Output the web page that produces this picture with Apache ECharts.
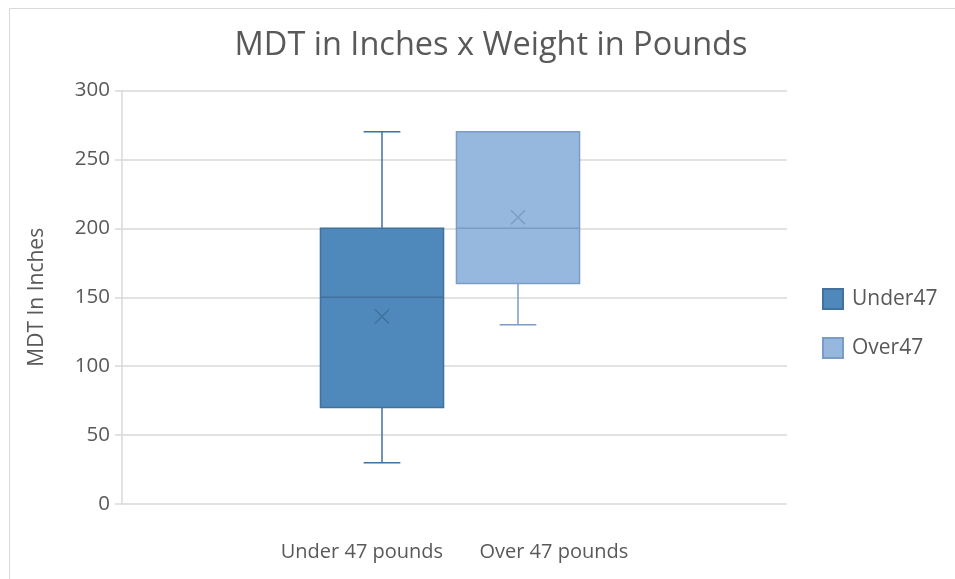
<!DOCTYPE html>
<html>
<head>
<meta charset="utf-8">
<title>MDT in Inches x Weight in Pounds</title>
<script src="https://cdn.jsdelivr.net/npm/echarts@6/dist/echarts.min.js"></script>
<style>
  html, body { margin: 0; padding: 0; background: #fff; }
  #chart { width: 955px; height: 579px; }
</style>
</head>
<body>
<div id="chart"></div>
<script>
// category label under the plot (one Excel category holding both groups)
const categories = ['Under 47 pounds', 'Over 47 pounds']
const seriesNames = ['Under47', 'Over47']

// [min, q1, median, q3, max]
const under47Box = [30, 70, 150, 200, 270]
const over47Box = [130, 160, 200, 270, 270]
const under47Mean = 136
const over47Mean = 208

const yTicks = [0, 50, 100, 150, 200, 250, 300]

const fills = ['#4f88bb', '#97b8de']
const strokes = ['#41719c', '#7b9cc6']

function boxRenderer(fill, stroke) {
  return function (params, api) {
    const x = api.value(0)
    const band = api.size([1, 0])[0]
    const boxW = band * 0.905
    const capW = band * 0.27
    const pMin = api.coord([x, api.value(1)])
    const pQ1 = api.coord([x, api.value(2)])
    const pMed = api.coord([x, api.value(3)])
    const pQ3 = api.coord([x, api.value(4)])
    const pMax = api.coord([x, api.value(5)])
    const pMean = api.coord([x, api.value(6)])
    const cx = pMed[0]
    const lineStyle = { stroke: stroke, lineWidth: 1.5, fill: null }
    const children = []
    // whiskers
    if (pMax[1] < pQ3[1]) {
      children.push({ type: 'line', shape: { x1: cx, y1: pQ3[1], x2: cx, y2: pMax[1] }, style: lineStyle })
      children.push({ type: 'line', shape: { x1: cx - capW / 2, y1: pMax[1], x2: cx + capW / 2, y2: pMax[1] }, style: lineStyle })
    }
    if (pMin[1] > pQ1[1]) {
      children.push({ type: 'line', shape: { x1: cx, y1: pQ1[1], x2: cx, y2: pMin[1] }, style: lineStyle })
      children.push({ type: 'line', shape: { x1: cx - capW / 2, y1: pMin[1], x2: cx + capW / 2, y2: pMin[1] }, style: lineStyle })
    }
    // box
    children.push({
      type: 'rect',
      shape: { x: cx - boxW / 2, y: pQ3[1], width: boxW, height: pQ1[1] - pQ3[1] },
      style: { fill: fill, stroke: stroke, lineWidth: 1.5 }
    })
    // median
    children.push({ type: 'line', shape: { x1: cx - boxW / 2, y1: pMed[1], x2: cx + boxW / 2, y2: pMed[1] }, style: lineStyle })
    // mean marker (x)
    const m = 7
    children.push({ type: 'line', shape: { x1: cx - m, y1: pMean[1] - m, x2: cx + m, y2: pMean[1] + m }, style: lineStyle })
    children.push({ type: 'line', shape: { x1: cx - m, y1: pMean[1] + m, x2: cx + m, y2: pMean[1] - m }, style: lineStyle })
    return { type: 'group', children: children }
  }
}

const chart = echarts.init(document.getElementById('chart'))

chart.setOption({
  backgroundColor: '#ffffff',
  textStyle: { fontFamily: 'Open Sans' },
  title: {
    text: 'MDT in Inches x Weight in Pounds',
    top: 24,
    left: 486,
    textAlign: 'center',
    textStyle: { fontSize: 32.5, fontWeight: 'normal', color: '#595959', fontFamily: 'Open Sans' }
  },
  graphic: [{
    type: 'rect',
    left: 7,
    top: 6,
    shape: { width: 1000, height: 700 },
    style: { fill: null, stroke: '#d9d9d9', lineWidth: 1 },
    silent: true
  }],
  legend: {
    orient: 'vertical',
    left: 817,
    top: 283,
    itemWidth: 20,
    itemHeight: 20,
    itemGap: 27,
    icon: 'rect',
    data: seriesNames,
    textStyle: { fontSize: 21, lineHeight: 20, color: '#595959', fontFamily: 'Open Sans', padding: [0, 0, 0, 4] }
  },
  grid: [
    { left: 122, right: 168, top: 90.5, bottom: 75 },
    { left: 314, right: 369, top: 90.5, bottom: 75 }
  ],
  xAxis: [
    {
      type: 'category',
      gridIndex: 0,
      data: [categories.join('       ')],
      axisLine: { show: false },
      axisTick: { show: false },
      axisLabel: { color: '#595959', fontSize: 20, margin: 38 }
    },
    {
      type: 'category',
      gridIndex: 1,
      data: [0, 1],
      show: false
    }
  ],
  yAxis: [
    {
      type: 'value',
      gridIndex: 0,
      min: yTicks[0],
      max: yTicks[yTicks.length - 1],
      interval: 50,
      name: 'MDT In Inches',
      nameLocation: 'middle',
      nameGap: 74,
      nameTextStyle: { color: '#595959', fontSize: 21 },
      axisLine: { show: true, lineStyle: { color: '#d9d9d9', width: 1.5 } },
      axisTick: { show: true, length: 7, lineStyle: { color: '#d9d9d9', width: 1.5 } },
      axisLabel: { color: '#595959', fontSize: 20.5, margin: 12 },
      splitLine: { lineStyle: { color: '#d9d9d9', width: 1.5 } }
    },
    {
      type: 'value',
      gridIndex: 1,
      min: yTicks[0],
      max: yTicks[yTicks.length - 1],
      show: false,
      splitLine: { show: false }
    }
  ],
  series: [
    {
      name: seriesNames[0],
      type: 'custom',
      xAxisIndex: 1,
      yAxisIndex: 1,
      itemStyle: { color: fills[0], borderColor: strokes[0], borderWidth: 1 },
      encode: { x: 0, y: [1, 2, 3, 4, 5, 6] },
      renderItem: boxRenderer(fills[0], strokes[0]),
      data: [[0].concat(under47Box, [under47Mean])]
    },
    {
      name: seriesNames[1],
      type: 'custom',
      xAxisIndex: 1,
      yAxisIndex: 1,
      itemStyle: { color: fills[1], borderColor: strokes[1], borderWidth: 1 },
      encode: { x: 0, y: [1, 2, 3, 4, 5, 6] },
      renderItem: boxRenderer(fills[1], strokes[1]),
      data: [[1].concat(over47Box, [over47Mean])]
    }
  ]
})
</script>
</body>
</html>
